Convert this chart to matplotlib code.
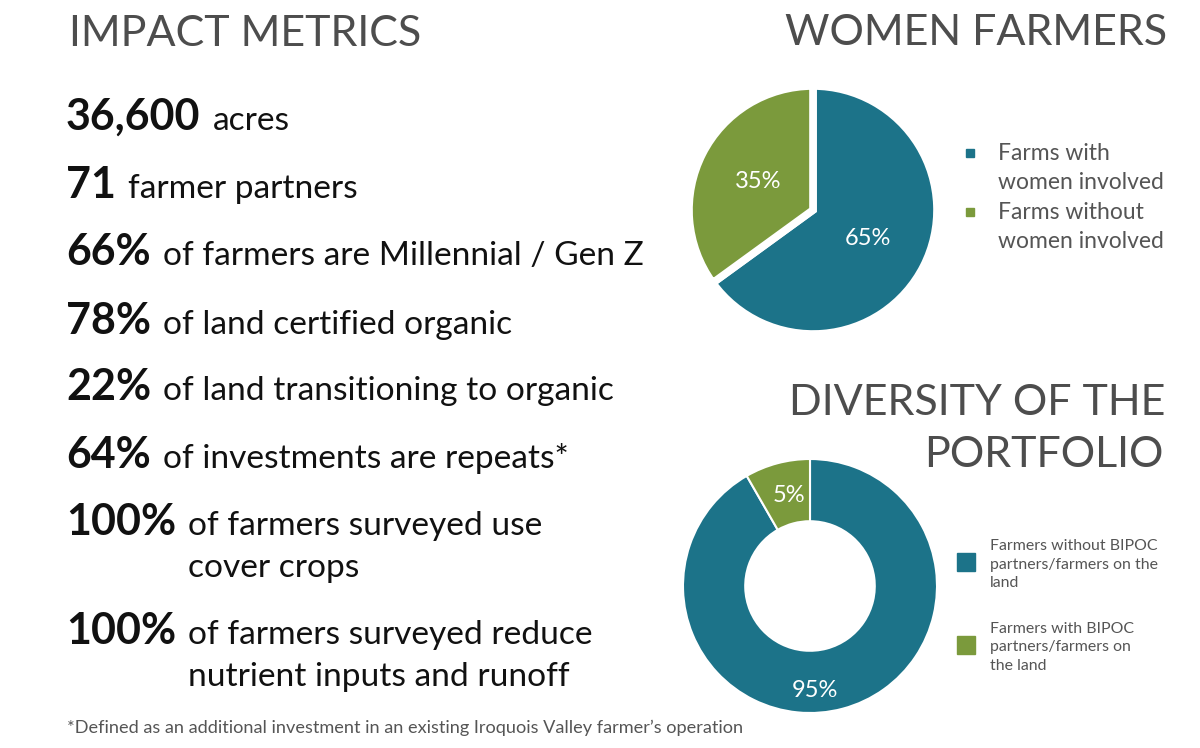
"""
Impact metrics infographic: a column of key numbers on the left,
a pie (women farmers) and a donut (portfolio diversity) on the right.
Saved as out.png
"""
import matplotlib.pyplot as plt
from matplotlib.patches import Rectangle
import math

plt.rcParams['font.family'] = ['Lato', 'DejaVu Sans']

# ---- data -------------------------------------------------------------
metric_values = ["36,600", "71", "66%", "78%", "22%", "64%", "100%", "100%"]
metric_texts = [
    ["acres"],
    ["farmer partners"],
    ["of farmers are Millennial / Gen Z"],
    ["of land certified organic"],
    ["of land transitioning to organic"],
    ["of investments are repeats*"],
    ["of farmers surveyed use", "cover crops"],
    ["of farmers surveyed reduce", "nutrient inputs and runoff"],
]
footnote = "*Defined as an additional investment in an existing Iroquois Valley farmer\u2019s operation"

women_labels = [["Farms with", "women involved"], ["Farms without", "women involved"]]
women_share = [65, 35]
women_pct = ["65%", "35%"]

bipoc_labels = [["Farmers without BIPOC", "partners/farmers on the", "land"],
                ["Farmers with BIPOC", "partners/farmers on", "the land"]]
bipoc_share = [91.7, 8.3]   # wedge sizes as drawn in the picture
bipoc_pct = ["95%", "5%"]   # printed labels

teal = "#1c7389"
green = "#7b9a3c"
title_grey = "#4d4d4d"
text_grey = "#555555"

# ---- figure -----------------------------------------------------------
W, H = 1200, 748
fig = plt.figure(figsize=(12, 7.48), dpi=100)
renderer = fig.canvas.get_renderer()


def fx(x):
    return x / W


def fy(y):
    return 1 - y / H


# titles
fig.text(fx(69), fy(46), "IMPACT METRICS", fontsize=31, color=title_grey, va='baseline')
fig.text(fx(1167), fy(45), "WOMEN FARMERS", fontsize=31, color=title_grey, va='baseline', ha='right')
fig.text(fx(1165), fy(415), "DIVERSITY OF THE", fontsize=31, color=title_grey, va='baseline', ha='right')
fig.text(fx(1163), fy(467), "PORTFOLIO", fontsize=31, color=title_grey, va='baseline', ha='right')

# metric rows: bold number, then regular text right after it
row_base = [130, 198, 265, 334, 400, 468, 535, 644]
for val, lines, yb in zip(metric_values, metric_texts, row_base):
    t = fig.text(fx(66), fy(yb), val, fontsize=31, fontweight='bold',
                 color='#111111', va='baseline')
    x_text = t.get_window_extent(renderer).x1 + 12
    for i, line in enumerate(lines):
        fig.text(x_text / W, fy(yb + i * 42), line, fontsize=24.1,
                 color='#111111', va='baseline')

fig.text(fx(67), fy(733), footnote, fontsize=13.1, color=text_grey, va='baseline')

# ---- women farmers pie ------------------------------------------------
cx, cy, r = 813, 210, 124
ax1 = fig.add_axes([fx(cx - r), fy(cy + r), 2 * r / W, 2 * r / H])
wedges1, _ = ax1.pie(women_share, colors=[teal, green], startangle=90,
                     counterclock=False, radius=1,
                     wedgeprops=dict(edgecolor='white', linewidth=5.5))
ax1.set_xlim(-1, 1)
ax1.set_ylim(-1, 1)
ax1.axis('off')
for w, lab in zip(wedges1, women_pct):
    mid = math.radians((w.theta1 + w.theta2) / 2)
    ax1.text(0.5 * math.cos(mid), 0.5 * math.sin(mid), lab, color='white',
             fontsize=17, ha='center', va='center')

# legend drawn by hand so the square sits next to the first line
leg_base = [160, 219]
for w, lines, yb in zip(wedges1, women_labels, leg_base):
    fig.add_artist(Rectangle((fx(966), fy(yb - 3)), 8 / W, 8 / H,
                             transform=fig.transFigure, color=w.get_facecolor()))
    for i, line in enumerate(lines):
        fig.text(fx(998), fy(yb + i * 29), line, fontsize=16.5, color=text_grey, va='baseline')

# ---- portfolio diversity donut ---------------------------------------
cx, cy, r = 810, 586, 127
ax2 = fig.add_axes([fx(cx - r), fy(cy + r), 2 * r / W, 2 * r / H])
wedges2, _ = ax2.pie(bipoc_share, colors=[teal, green], startangle=90,
                     counterclock=False, radius=1,
                     wedgeprops=dict(width=0.49, edgecolor='white', linewidth=1.5))
ax2.set_xlim(-1, 1)
ax2.set_ylim(-1, 1)
ax2.axis('off')
label_r = [0.82, 0.73]
label_shift = [-12, -2]
for w, lab, lr, sh in zip(wedges2, bipoc_pct, label_r, label_shift):
    mid = math.radians((w.theta1 + w.theta2) / 2 + sh)
    ax2.text(lr * math.cos(mid), lr * math.sin(mid), lab, color='white',
             fontsize=17, ha='center', va='center')

leg_base = [550, 633]
for w, lines, yb in zip(wedges2, bipoc_labels, leg_base):
    fig.add_artist(Rectangle((fx(957), fy(yb + 21)), 18 / W, 18 / H,
                             transform=fig.transFigure, color=w.get_facecolor()))
    for i, line in enumerate(lines):
        fig.text(fx(990), fy(yb + i * 18.5), line, fontsize=11.4, color=text_grey, va='baseline')

fig.savefig('out.png', dpi=100)
